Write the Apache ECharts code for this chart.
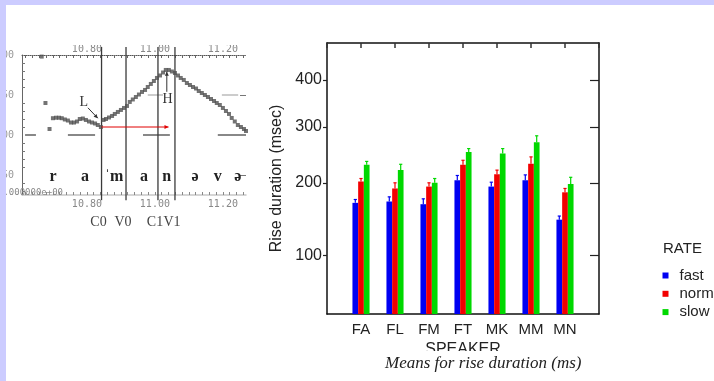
<!DOCTYPE html>
<html>
<head>
<meta charset="utf-8">
<script src="https://cdn.jsdelivr.net/npm/echarts@6/dist/echarts.min.js"></script>
<style>
html, body { margin: 0; padding: 0; background: #fff; }
#chart { width: 714px; height: 381px; }
</style>
</head>
<body>
<div id="chart"></div>
<script>
// bar chart data (rise duration, ms)
const speakers = ['FA', 'FL', 'FM', 'FT', 'MK', 'MM', 'MN'];
const rates = ['fast', 'normal', 'slow'];
const fastMeans = [169, 171, 167, 204, 194, 204, 145];
const normalMeans = [202, 191, 194, 230, 214, 232, 185];
const slowMeans = [230, 221, 200, 253, 250, 271, 198];
const fastErr = [5, 7, 8, 8, 7, 9, 5];
const normalErr = [5, 9, 6, 8, 7, 12, 6];
const slowErr = [6, 10, 7, 6, 9, 12, 11];
const yTicks = [100, 200, 300, 400];
const yRange = [44.4, 489];

// pitch track panel (time s, F0 Hz)
const pitchTrack = [
  [10.667, 198], [10.678, 140], [10.690, 107.5],
  [10.700, 121], [10.709, 121.6], [10.718, 121.6], [10.726, 121], [10.735, 119.4], [10.744, 118.1],
  [10.753, 115.6], [10.762, 115.6], [10.771, 116.9], [10.779, 120], [10.788, 120.6], [10.797, 118.8],
  [10.806, 116.9], [10.815, 115.6], [10.824, 114.4], [10.832, 112.5], [10.841, 110],
  [10.849, 118.8], [10.856, 120], [10.865, 121.9], [10.874, 123.8], [10.882, 126.3], [10.891, 128.8],
  [10.900, 131.3], [10.909, 133.8], [10.918, 136.3], [10.926, 141.3], [10.935, 144.4], [10.944, 147.5],
  [10.953, 150.6], [10.962, 153.8], [10.971, 156.3], [10.979, 160], [10.988, 163.8], [10.997, 167.5],
  [11.006, 171.3], [11.015, 174.4], [11.024, 178.1], [11.032, 181.3], [11.041, 181.3], [11.050, 179.4],
  [11.059, 177.5], [11.068, 174.4], [11.076, 171.3], [11.085, 168.8], [11.094, 165], [11.103, 162.5],
  [11.112, 160], [11.121, 158.1], [11.129, 155], [11.138, 152.5], [11.147, 150], [11.156, 147.5],
  [11.165, 145], [11.174, 142.5], [11.182, 140], [11.191, 137.5], [11.200, 133.8], [11.209, 130],
  [11.218, 126.3], [11.226, 121.3], [11.235, 116.9], [11.244, 112.5], [11.253, 110], [11.262, 107.5],
  [11.268, 105]
];
const boundaries = [10.843, 10.915, 11.009, 11.059];
const boundaryNames = ['C0', 'V0', 'C1', 'V1'];
const phones = [['r', 10.700], ['a', 10.794], ['ˈm', 10.880], ['a', 10.968], ['n', 11.035], ['ə', 11.118], ['v', 11.185], ['ə', 11.244]];
const refDashes = [
  [10.618, 10.650, 100, '#888'], [10.744, 10.824, 100, '#888'], [10.965, 11.044, 100, '#888'], [11.185, 11.268, 100, '#888'],
  [10.979, 11.024, 150, '#ccc'], [11.197, 11.245, 150, '#ccc']
];
// arrows: [t0, hz0, t1, hz1, colour]
const arrows = [
  [10.803, 134, 10.832, 121, '#333'],
  [11.035, 154, 11.035, 179, '#333'],
  [10.843, 110, 11.040, 110, '#e00000']
];
const timeLabels = [10.8, 11.0, 11.2];
const timeTicks = [10.62, 10.64, 10.66, 10.68, 10.70, 10.72, 10.74, 10.76, 10.78, 10.80, 10.82, 10.84, 10.86,
  10.88, 10.90, 10.92, 10.94, 10.96, 10.98, 11.00, 11.02, 11.04, 11.06, 11.08, 11.10, 11.12, 11.14, 11.16,
  11.18, 11.20, 11.22, 11.24, 11.26];
const hzLabels = [50, 100, 150, 200];
const hzMinorTicks = [30, 40, 60, 70, 80, 90, 110, 120, 130, 140, 160, 170, 180, 190];

const colors = ['#0000f2', '#f20000', '#00d800'];
const BAR_W = 5.7;
const font = 'Liberation Sans, Arial, sans-serif';
const mono = 'DejaVu Sans Mono, monospace';
const serif = 'Liberation Serif, DejaVu Serif, serif';

const cats = [''].concat(speakers, ['']);
const means = [fastMeans, normalMeans, slowMeans];
const errs = [fastErr, normalErr, slowErr];

const barSeries = rates.map((r, k) => ({
  type: 'bar', name: r, xAxisIndex: 0, yAxisIndex: 0,
  barWidth: BAR_W, barGap: '0%',
  itemStyle: { color: colors[k] },
  data: means[k].map((v, i) => [i + 1, Math.sqrt(v)])
}));

const errSeries = rates.map((r, k) => ({
  type: 'custom', name: r + ' err', xAxisIndex: 0, yAxisIndex: 0, z: 3,
  data: means[k].map((v, i) => [i + 1, v, v + errs[k][i]]),
  renderItem(params, api) {
    const base = api.coord([api.value(0), Math.sqrt(api.value(1))]);
    const top = api.coord([api.value(0), Math.sqrt(api.value(2))]);
    const x = base[0] + (k - 1) * BAR_W;
    const st = { stroke: colors[k], lineWidth: 1.2 };
    return { type: 'group', children: [
      { type: 'line', shape: { x1: x, y1: base[1], x2: x, y2: top[1] }, style: st },
      { type: 'line', shape: { x1: x - 1.6, y1: top[1], x2: x + 1.6, y2: top[1] }, style: st }
    ] };
  }
}));

const leftSeries = [
  {
    type: 'custom', xAxisIndex: 2, yAxisIndex: 2, z: 2,
    data: refDashes,
    renderItem(params, api) {
      const d = refDashes[params.dataIndex];
      const a = api.coord([d[0], d[2]]), b = api.coord([d[1], d[2]]);
      return { type: 'line', shape: { x1: a[0], y1: a[1], x2: b[0], y2: b[1] }, style: { stroke: d[3], lineWidth: 2 } };
    }
  },
  {
    type: 'custom', xAxisIndex: 2, yAxisIndex: 2, z: 4,
    data: boundaries.map((t, i) => [t, boundaryNames[i]]),
    renderItem(params, api) {
      const a = api.coord([api.value(0), 210]), b = api.coord([api.value(0), 18.5]);
      const c = api.coord([api.value(0), -9]);
      return { type: 'group', children: [
        { type: 'line', shape: { x1: a[0], y1: a[1], x2: b[0], y2: b[1] }, style: { stroke: '#3a3a3a', lineWidth: 1.3 } },
        { type: 'text', x: c[0] - 3, y: c[1], style: { text: boundaryNames[params.dataIndex], fill: '#444', font: '14px ' + serif, align: 'center', verticalAlign: 'middle' } }
      ] };
    }
  },
  {
    type: 'scatter', xAxisIndex: 2, yAxisIndex: 2, z: 5,
    symbol: 'rect', symbolSize: 4, itemStyle: { color: '#505050' },
    data: pitchTrack
  },
  {
    type: 'custom', xAxisIndex: 2, yAxisIndex: 2, z: 5,
    data: phones.map(p => [p[1], 48]),
    renderItem(params, api) {
      const c = api.coord([api.value(0), api.value(1)]);
      return { type: 'text', x: c[0], y: c[1], style: { text: phones[params.dataIndex][0], fill: '#222', font: 'bold 16px ' + serif, align: 'center', verticalAlign: 'middle' } };
    }
  },
  {
    type: 'custom', xAxisIndex: 2, yAxisIndex: 2, z: 5,
    data: [[10.791, 141, 'L'], [11.037, 144, 'H']],
    renderItem(params, api) {
      const c = api.coord([api.value(0), api.value(1)]);
      return { type: 'text', x: c[0], y: c[1], style: { text: api.value(2), fill: '#333', font: '14px ' + serif, align: 'center', verticalAlign: 'middle' } };
    }
  },
  {
    type: 'custom', xAxisIndex: 2, yAxisIndex: 2, z: 6,
    data: arrows.map(a => a.slice(0, 4)),
    renderItem(params, api) {
      const d = arrows[params.dataIndex];
      const a = api.coord([d[0], d[1]]), b = api.coord([d[2], d[3]]);
      const ang = Math.atan2(b[1] - a[1], b[0] - a[0]);
      const h = 4, w = 2;
      const p1 = [b[0] - h * Math.cos(ang) + w * Math.sin(ang), b[1] - h * Math.sin(ang) - w * Math.cos(ang)];
      const p2 = [b[0] - h * Math.cos(ang) - w * Math.sin(ang), b[1] - h * Math.sin(ang) + w * Math.cos(ang)];
      return { type: 'group', children: [
        { type: 'line', shape: { x1: a[0], y1: a[1], x2: b[0], y2: b[1] }, style: { stroke: d[4], lineWidth: 1 } },
        { type: 'polygon', shape: { points: [b, p1, p2] }, style: { fill: d[4] } }
      ] };
    }
  }
];

const chart = echarts.init(document.getElementById('chart'));
chart.setOption({
  animation: false,
  backgroundColor: '#fff',
  textStyle: { fontFamily: font },
  title: { text: 'RATE', left: 663, top: 241, padding: 0, textStyle: { fontSize: 15, fontWeight: 'normal', color: '#222', fontFamily: font } },
  legend: {
    orient: 'vertical', left: 662.5, top: 268, padding: 0,
    itemWidth: 6, itemHeight: 6, itemGap: 3.3, icon: 'rect',
    data: rates, selectedMode: false,
    textStyle: { fontSize: 15, color: '#222', lineHeight: 15, padding: [0, 0, 0, 6], fontFamily: font }
  },
  grid: [
    { left: 327, top: 43, width: 272, height: 271, outerBoundsMode: 'none', containLabel: false },
    { left: 22, top: 55, width: 224, height: 140, outerBoundsMode: 'none', containLabel: false }
  ],
  xAxis: [
    {
      type: 'category', gridIndex: 0, data: cats, boundaryGap: false,
      name: 'SPEAKER', nameLocation: 'middle', nameGap: 28,
      nameTextStyle: { fontSize: 16, color: '#222', fontFamily: font },
      axisLine: { lineStyle: { color: '#111', width: 1.5 } },
      axisTick: { show: false },
      axisLabel: { interval: 0, fontSize: 15, color: '#222', margin: 8, fontFamily: font }
    },
    {
      type: 'category', gridIndex: 0, data: cats, boundaryGap: false, position: 'top',
      axisLine: { lineStyle: { color: '#111', width: 1.5 } },
      axisTick: { inside: true, length: 5, interval: 0, lineStyle: { color: '#333', width: 1.5 } },
      axisLabel: { show: false }
    },
    {
      type: 'value', gridIndex: 1, min: 10.609, max: 11.268, position: 'bottom',
      splitLine: { show: false },
      axisLine: { lineStyle: { color: '#c8c8c8', width: 1.5 } },
      axisTick: { inside: true, length: 3, customValues: timeTicks, lineStyle: { color: '#888' } },
      axisLabel: { customValues: timeLabels, formatter: v => v.toFixed(2), fontSize: 10, color: '#888', margin: 4, fontFamily: mono }
    },
    {
      type: 'value', gridIndex: 1, min: 10.609, max: 11.268, position: 'top',
      splitLine: { show: false },
      axisLine: { lineStyle: { color: '#555', width: 1, type: 'dotted' } },
      axisTick: { inside: true, length: 3, customValues: timeTicks, lineStyle: { color: '#666' } },
      axisLabel: { customValues: timeLabels, formatter: v => v.toFixed(2), fontSize: 10, color: '#888', margin: 1, fontFamily: mono }
    }
  ],
  yAxis: [
    {
      type: 'value', gridIndex: 0, min: Math.sqrt(yRange[0]), max: Math.sqrt(yRange[1]),
      name: 'Rise duration (msec)', nameLocation: 'middle', nameGap: 42,
      nameTextStyle: { fontSize: 16, color: '#222', fontFamily: font },
      splitLine: { show: false },
      axisLine: { show: true, lineStyle: { color: '#111', width: 1.5 } },
      axisTick: { show: true, length: 4, customValues: yTicks.map(Math.sqrt), lineStyle: { color: '#222', width: 1.2 } },
      axisLabel: { customValues: yTicks.map(Math.sqrt), formatter: v => String(Math.round(v * v)), fontSize: 16, color: '#222', margin: 5, fontFamily: font }
    },
    {
      type: 'value', gridIndex: 0, position: 'right', min: Math.sqrt(yRange[0]), max: Math.sqrt(yRange[1]),
      splitLine: { show: false },
      axisLine: { show: true, lineStyle: { color: '#111', width: 1.5 } },
      axisTick: { show: true, inside: true, length: 9, customValues: yTicks.map(Math.sqrt), lineStyle: { color: '#222', width: 1.2 } },
      axisLabel: { show: false }
    },
    {
      type: 'value', gridIndex: 1, min: 25, max: 200,
      splitLine: { show: false },
      axisLine: { show: true, lineStyle: { color: '#666', width: 1 } },
      axisTick: { show: true, inside: true, length: 3, customValues: hzMinorTicks, lineStyle: { color: '#777' } },
      axisLabel: { customValues: hzLabels, fontSize: 10, color: '#999', margin: 8, fontFamily: mono }
    },
    {
      type: 'value', gridIndex: 1, min: 25, max: 200,
      splitLine: { show: false },
      axisLine: { show: false },
      axisTick: { show: true, inside: true, length: 6, customValues: hzLabels, lineStyle: { color: '#777' } },
      axisLabel: { show: false }
    }
  ],
  series: barSeries.concat(errSeries, leftSeries),
  graphic: [
    { type: 'rect', z: 100, shape: { x: 6, y: 5, width: 250, height: 40 }, style: { fill: '#fff' } },
    { type: 'rect', z: 100, shape: { x: 420, y: 351, width: 90, height: 6 }, style: { fill: '#fff' } },
    { type: 'text', z: 90, x: 63, y: 193, style: { text: '0.000000e+00', font: '9px ' + mono, fill: '#888', align: 'right', verticalAlign: 'middle' } },
    { type: 'text', z: 101, x: 385, y: 364, style: { text: 'Means for rise duration (ms)', font: 'italic 17px ' + serif, fill: '#222', verticalAlign: 'middle' } },
    { type: 'rect', z: 110, shape: { x: 0, y: 0, width: 714, height: 5 }, style: { fill: '#ccccff' } },
    { type: 'rect', z: 110, shape: { x: 0, y: 0, width: 6, height: 381 }, style: { fill: '#ccccff' } }
  ]
});
</script>
</body>
</html>
